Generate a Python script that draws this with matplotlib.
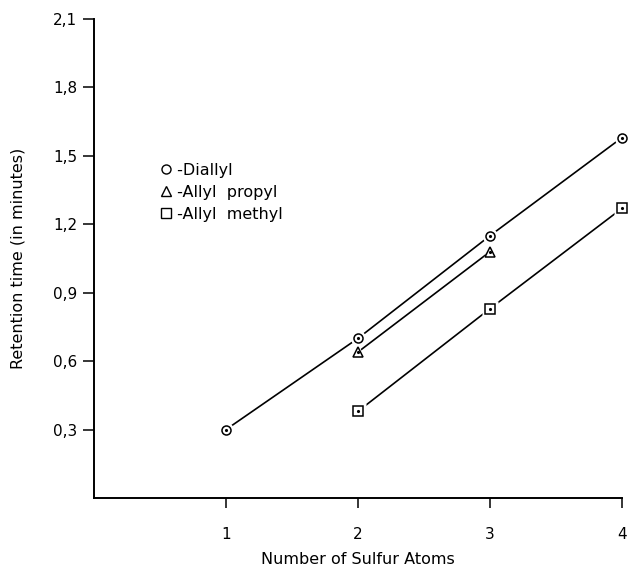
import numpy as np
import matplotlib.pyplot as plt
from matplotlib.ticker import FuncFormatter
from matplotlib.lines import Line2D

# values
diallyl_x = [1, 2, 3, 4]
diallyl_y = [0.30, 0.70, 1.15, 1.58]
propyl_x = [2, 3]
propyl_y = [0.64, 1.08]
methyl_x = [2, 3, 4]
methyl_y = [0.38, 0.83, 1.27]

series = [
    (' -Diallyl', diallyl_x, diallyl_y, 'o'),
    (' -Allyl  propyl', propyl_x, propyl_y, '^'),
    (' -Allyl  methyl', methyl_x, methyl_y, 's'),
]

plt.rcParams['font.family'] = 'DejaVu Sans'
fig = plt.figure(figsize=(6.3, 5.7), dpi=100)
ax = fig.add_axes([94/630, 1 - 498/570, 528/630, (498 - 19)/570])

for label, xs, ys, m in series:
    ax.plot(xs, ys, color='black', lw=1.2, zorder=1, clip_on=False)
    # white halo so the line stops short of the marker
    ax.plot(xs, ys, ls='none', marker=m, ms=11, mfc='white', mec='none',
            zorder=2, clip_on=False)
    ax.plot(xs, ys, ls='none', marker=m, ms=6.5, mfc='white', mec='black',
            mew=1.1, zorder=3, clip_on=False)
    ax.plot(xs, ys, ls='none', marker='.', ms=2.5, color='black',
            zorder=4, clip_on=False)

ax.set_xlim(0, 4)
ax.set_ylim(0, 2.1)
ax.set_xticks([1, 2, 3, 4])
ax.set_yticks([0.3, 0.6, 0.9, 1.2, 1.5, 1.8, 2.1])
ax.yaxis.set_major_formatter(FuncFormatter(lambda v, p: f'{v:.1f}'.replace('.', ',')))
ax.spines['top'].set_visible(False)
ax.spines['right'].set_visible(False)
ax.spines['left'].set_linewidth(1.4)
ax.spines['bottom'].set_linewidth(1.4)
ax.tick_params(direction='out', width=1.1, labelsize=11)
ax.tick_params(axis='x', length=7, pad=14)
ax.tick_params(axis='y', length=8, pad=4)

ax.set_xlabel('Number of Sulfur Atoms', fontsize=11.5, labelpad=7)
ax.set_ylabel('Retention time (in minutes)', fontsize=11.5, labelpad=20)

handles = [Line2D([], [], ls='none', marker=m, ms=6.5, mfc='white', mec='black', mew=1)
           for _, _, _, m in series]
ax.legend(handles, [s[0] for s in series], loc='upper left',
          bbox_to_anchor=(0.10, 0.73), frameon=False, handlelength=0.6,
          handletextpad=0.1, labelspacing=0.45, fontsize=11.5)

fig.savefig('out.png', dpi=100)
